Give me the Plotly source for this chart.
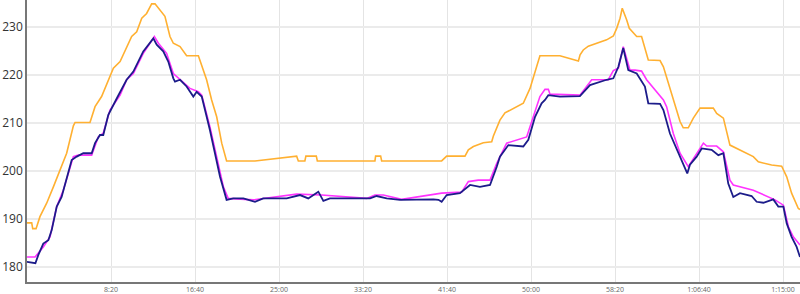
import plotly.graph_objects as go

# Orange (upper) series
orange_t = [0, 28, 34, 54, 77, 117, 157, 196, 236, 276, 286, 375, 405, 444, 494, 514, 554, 593, 623, 653, 683, 712, 742, 762, 792, 821, 851, 871, 911, 930, 950, 1020, 1040, 1069, 1099, 1129, 1159, 1178, 1188,
            1357, 1595, 1605, 1615, 1654, 1660, 1722, 1728, 2071, 2075, 2105, 2111, 2468, 2498, 2607, 2627, 2657, 2716, 2766, 2776, 2815, 2845, 2954, 2994, 3024, 3053, 3172, 3282, 3292, 3311, 3341, 3450, 3490, 3510, 3530,
            3543, 3569, 3585, 3629, 3658, 3698, 3768, 3788, 3847, 3887, 3906, 3936, 3966, 4006, 4085, 4105, 4145, 4184, 4323, 4353, 4432, 4492, 4522, 4551, 4591, 4601]
orange_v = [189.2, 189.2, 188.0, 188.0, 190.5, 193.3, 196.7, 200.2, 203.7, 209.4, 210.1, 210.1, 213.4, 215.5, 219.6, 221.4, 222.8, 225.9, 228.0, 229.0, 231.8, 232.8, 234.8, 234.8, 233.5, 232.2, 228.0, 226.6, 225.9, 224.9, 224.0, 224.0, 222.1, 219.0, 214.8, 211.3, 205.8, 203.0, 202.1,
            202.1, 203.1, 203.1, 202.1, 202.1, 203.1, 203.1, 202.1, 202.1, 203.1, 203.1, 202.1, 202.1, 203.1, 203.1, 204.4, 205.1, 205.9, 206.1, 207.3, 210.6, 212.1, 214.1, 217.2, 220.7, 224.0, 224.0, 222.9, 224.2, 225.2, 226.0, 227.3, 228.1, 229.7, 231.8,
            233.9, 231.5, 229.7, 228.0, 228.0, 223.1, 223.0, 221.7, 214.8, 210.3, 209.0, 209.0, 211.0, 213.1, 213.1, 212.0, 211.0, 205.4, 203.0, 201.9, 201.25, 201.0, 198.8, 195.4, 192.2, 192.0]

# Magenta (smoothed) series
magenta_t = [0, 48, 97, 137, 177, 216, 276, 305, 385, 424, 454, 494, 554, 593, 633, 692, 732, 758, 782, 831, 871, 911, 970, 1020, 1040, 1089, 1129, 1169, 1188,
             1198, 1347, 1605, 1754, 2022, 2071, 2121, 2230, 2468, 2587, 2627, 2686, 2756, 2796, 2855, 2974, 3024, 3053, 3083, 3103, 3113, 3291, 3331, 3361, 3460, 3490, 3520,
             3549, 3589, 3619, 3658, 3688, 3788, 3807, 3847, 3887, 3936, 3986, 4026, 4046, 4105, 4145, 4184, 4204, 4323, 4452, 4502, 4532, 4561, 4601]
magenta_v = [182.1, 182.1, 184.2, 186.3, 192.6, 196.0, 203.0, 203.3, 203.3, 207.1, 207.9, 212.7, 215.8, 219.0, 220.3, 224.5, 226.6, 228.0, 226.6, 224.5, 220.3, 219.0, 217.2, 216.5, 215.8, 209.2, 203.0, 196.7, 195.1,
             194.3, 194.0, 195.2, 195.0, 194.3, 195.0, 195.0, 194.1, 195.4, 195.6, 197.8, 198.1, 198.1, 201.6, 205.8, 207.1, 212.7, 215.5, 217.0, 217.0, 216.0, 215.8, 217.6, 219.0, 219.0, 220.9, 221.4,
             225.9, 221.0, 221.0, 220.8, 219.0, 214.8, 213.4, 207.8, 203.7, 200.9, 203.7, 205.8, 205.2, 205.2, 204.0, 198.1, 197.1, 196.0, 194.0, 192.9, 188.4, 186.3, 184.6]

# Navy (raw) series
navy_t = [0, 38, 50, 67, 97, 127, 147, 177, 206, 266, 296, 335, 385, 405, 434, 454, 484, 534, 593, 633, 692, 752, 772, 811, 841, 871, 881, 911, 950, 990, 1010, 1040, 1089, 1149, 1188,
          1228, 1288, 1357, 1406, 1546, 1625, 1674, 1734, 1764, 1803, 2042, 2081, 2141, 2220, 2419, 2449, 2468, 2498, 2577, 2637, 2696, 2756, 2796, 2815, 2865, 2954, 2984, 3024, 3063, 3083, 3103, 3172, 3291, 3351, 3450, 3490, 3520,
          3549, 3579, 3599, 3629, 3678, 3698, 3768, 3788, 3827, 3877, 3930, 3946, 3986, 4016, 4075, 4115, 4145, 4174, 4204, 4244, 4313, 4343, 4383, 4442, 4472, 4502, 4522, 4551, 4581, 4601]
navy_v = [181.1, 180.8, 180.8, 182.5, 184.9, 185.6, 187.7, 192.6, 194.6, 202.3, 203.0, 203.7, 203.7, 205.8, 207.5, 207.5, 211.7, 215.1, 219.0, 220.7, 224.9, 227.6, 226.3, 224.9, 222.8, 219.3, 218.6, 219.0, 217.6, 215.5, 216.5, 215.5, 208.5, 198.8, 194.0,
          194.3, 194.3, 193.6, 194.3, 194.3, 195.0, 194.3, 195.7, 193.8, 194.3, 194.3, 194.8, 194.3, 194.0, 194.1, 194.0, 193.6, 195.0, 195.4, 197.1, 196.7, 197.1, 200.9, 203.0, 205.4, 205.1, 206.5, 211.3, 214.1, 214.8, 215.8, 215.5, 215.6, 217.9, 219.0, 219.3, 221.7,
          225.6, 221.0, 220.7, 220.3, 217.6, 214.1, 214.0, 212.7, 207.8, 203.7, 199.5, 201.3, 203.0, 204.7, 204.4, 203.3, 203.7, 197.4, 194.6, 195.4, 194.8, 193.6, 193.4, 194.1, 192.6, 192.6, 189.1, 186.3, 184.2, 182.1]

x_tickvals = [500, 1000, 1500, 2000, 2500, 3000, 3500, 4000, 4500]
x_ticktext = ["8:20", "16:40", "25:00", "33:20", "41:40", "50:00", "58:20", "1:06:40", "1:15:00"]
y_tickvals = [180, 190, 200, 210, 220, 230]

fig = go.Figure()
fig.add_trace(go.Scatter(x=orange_t, y=orange_v, mode="lines",
                         line=dict(color="#FFB031", width=1.6), hoverinfo="skip"))
fig.add_trace(go.Scatter(x=magenta_t, y=magenta_v, mode="lines",
                         line=dict(color="#FF33FF", width=1.6), hoverinfo="skip"))
fig.add_trace(go.Scatter(x=navy_t, y=navy_v, mode="lines",
                         line=dict(color="#1C1C8A", width=1.8), hoverinfo="skip"))

fig.update_layout(
    width=800, height=294,
    margin=dict(l=27, r=0, t=0, b=12),
    paper_bgcolor="white", plot_bgcolor="white",
    showlegend=False,
    font=dict(family="Open Sans, sans-serif"),
)
fig.update_xaxes(
    range=[0, 4601], tickvals=x_tickvals, ticktext=x_ticktext,
    showgrid=True, gridcolor="#E4E4E4", gridwidth=1,
    showline=True, linecolor="#777777", linewidth=2,
    tickfont=dict(size=7, color="#666666"), ticks="", zeroline=False,
)
fig.update_yaxes(
    range=[176.9, 235.6], tickvals=y_tickvals,
    showgrid=True, gridcolor="#EBEBEB", gridwidth=2,
    showline=True, linecolor="#777777", linewidth=1.5,
    tickfont=dict(size=12, color="#333333"), ticks="", zeroline=False,
)
fig.write_html("out.html")
